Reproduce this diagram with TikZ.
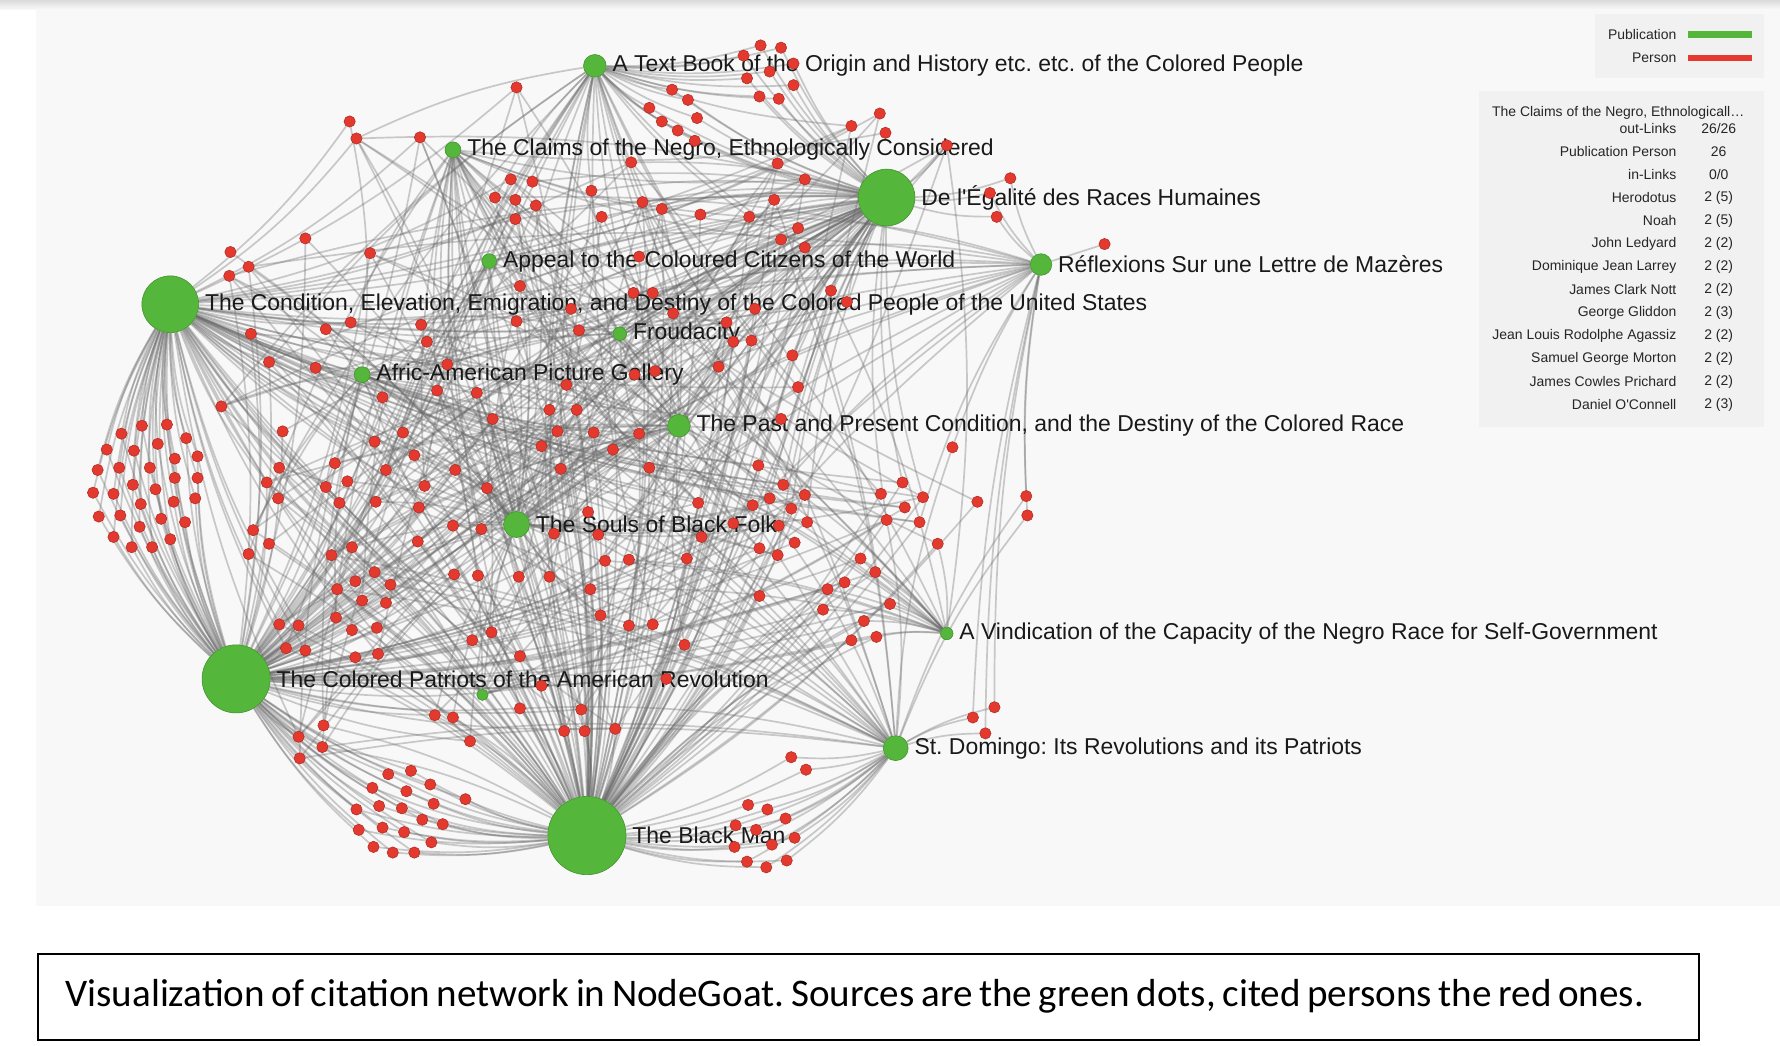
\documentclass[tikz,border=0pt]{standalone}
\usepackage{fontspec}
\setmainfont{Liberation Sans}
\newfontfamily\capfont{Carlito}
\usepackage{tikz}
\frenchspacing

\definecolor{pubgreen}{RGB}{84,182,58}
\definecolor{perred}{RGB}{227,57,46}
\definecolor{panelgray}{RGB}{248,248,248}
\definecolor{boxgray}{RGB}{241,241,241}

\pgfdeclarelayer{back}
\pgfdeclarelayer{edges}
\pgfsetlayers{back,edges,main}

\tikzset{
    pub/.style={circle, fill=pubgreen, draw=pubgreen!80!black, line width=0.3pt, inner sep=0pt, minimum size=#1},
    person/.style={circle, fill=perred, draw=perred!75!black, line width=0.25pt, inner sep=0pt, minimum size=0.2cm},
    link/.style={draw=black!60, opacity=0.33, line width=0.85pt},
    lbl/.style={font=\fontsize{11.5}{13}\selectfont, inner sep=0pt, text=black!90, label distance=0.1cm},
    info/.style={font=\fontsize{7}{8}\selectfont, inner sep=0pt, text=black!85},
    capbox/.style={draw=black, line width=1pt, fill=white, minimum width=29.28cm, minimum height=1.52cm, text width=28.3cm, inner xsep=0.49cm, align=left}
}

% person positions, grouped by the publications citing them
\def\cplist{125/375,147/374,107/382,139/391,164/386,94/396,118/397,154/404,174/402,86/414,
    105/412,132/412,154/421,174/421,82/434,100/435,117/427,137/431,124/444,153/442,
    172/439,87/455,106/454,123/464,142/457,163/460,100/473,116/482,134/482,150/475}
\def\pblist{342/682,362/679,328/694,358/697,379/691,314/713,334/710,354/712,382/708,316/731,
    337/729,356/733,372/722,390/726,329/746,346/751,365/751,380/742,410/704}
\def\bdlist{659/709,676/713,692/721,648/727,666/731,700/738,680/744,647/746,658/759,675/764,
    693/758,697/667,710/678}
\def\telist{670/40,688/42,655/49,699/56,678/63,658/69,699/75,669/85,686/87,592/79,
    606/88,572/95,614/104,583/107,597/115,612/124}
\def\relist{890/157,872/170,878/191}
\def\rdlist{904/437,905/454,876/623,857/632,868/646,839/394}
\def\vdlist{758/492,771/504,744/513,729/519,784/532,725/537,761/547,750/564,772/561}
\def\mxlist{455/77,308/107,314/122,370/121,450/158,469/160,436/174,454/176,472/181,454/193,
    521/168,530/191,269/210,326/223,203/222,219/235,202/243,458/252,503/272,455/283,
    510/291,309/284,287/290,371/286,376/301,221/294,237/319,278/324,394/321,385/344,
    420/346,499/339,337/350,
    775/100,750/111,780/117,834/128,556/143,685/144,709/158,566/178,583/184,617/189,
    660/191,682/176,703/201,688/211,709/218,563/226,558/258,575/258,732/256,746/266,
    665/272,593/276,640/284,646/301,662/300,698/313,633/323,703/341,559/330,577/327,
    195/358,249/380,246/412,235/425,245/439,223/467,237/479,219/488,295/408,287/429,
    306/424,299/443,330/389,355/381,365/401,340/414,374/428,331/442,369/447,401/414,
    429/430,434/369,484/361,508/361,491/380,523/381,477/393,494/413,399/463,424/466,
    368/477,310/482,292/489,488/470,527/471,518/451,400/506,421/507,457/508,484/508,
    330/504,313/512,344/515,297/519,319/529,340/531,296/544,310/555,332/553,246/550,
    263/551,252/571,269/573,313/579,333/576,416/564,433/557,458/578,520/519,529/542,
    477/604,458/624,512/625,497/644,515/644,383/630,399/632,414/653,285/639,263/649,
    284/658,264/668,
    688/369,563/382,540/396,572/412,668/410,690/427,709/436,678/439,663/445,615/443,
    697/448,711/460,686/463,646/461,618/473,700/478,669/483,685/489,605/492,554/493,
    533/494,776/435,795/425,813/438,797/447,781/458,810/460,826/479,861/442,669/525,
    554/551,575/550,603/568,587/598,542/642}

\begin{document}
\begin{tikzpicture}[x=0.02cm, y=-0.02cm]
    \useasboundingbox (0,0) rectangle (1568,921);
    \pgfmathsetseed{42}

    % Background and panels
    \begin{pgfonlayer}{back}
        \fill[white] (0,0) rectangle (1568,921);
        \shade[top color=black!14, bottom color=black!3] (0,0) rectangle (1568,8);
        \fill[panelgray] (32,8) rectangle (1568,798);
        \fill[boxgray] (1405,12) rectangle (1554,69);
        \fill[boxgray] (1303,80) rectangle (1554,376);
    \end{pgfonlayer}

    % Publications
    \node[pub=0.40cm, label={[lbl]right:A Text Book of the Origin and History etc. etc. of the Colored People}] (TEXTBK) at (524,58) {};
    \node[pub=0.28cm, label={[lbl]right:The Claims of the Negro, Ethnologically Considered}] (CLAIMS) at (399,132) {};
    \node[pub=1.00cm, label={[lbl]right:De l\textquotesingle Égalité des Races Humaines}] (EGAL) at (781,174) {};
    \node[pub=0.26cm, label={[lbl]right:Appeal to the Coloured Citizens of the World}] (APPEAL) at (431,230) {};
    \node[pub=0.38cm, label={[lbl]right:Réflexions Sur une Lettre de Mazères}] (REFLEX) at (917,233) {};
    \node[pub=1.00cm, label={[lbl]right:The Condition, Elevation, Emigration, and Destiny of the Colored People of the United States}] (COND) at (150,268) {};
    \node[pub=0.24cm, label={[lbl]right:Froudacity}] (FROUD) at (546,294) {};
    \node[pub=0.28cm, label={[lbl]right:Afric-American Picture Gallery}] (AFRIC) at (319,330) {};
    \node[pub=0.40cm, label={[lbl]right:The Past and Present Condition, and the Destiny of the Colored Race}] (PAST) at (598,375) {};
    \node[pub=0.46cm, label={[lbl]right:The Souls of Black Folk}] (SOULS) at (455,462) {};
    \node[pub=0.22cm, label={[lbl]right:A Vindication of the Capacity of the Negro Race for Self-Government}] (VINDIC) at (834,558) {};
    \node[pub=1.20cm, label={[lbl]right:The Colored Patriots of the American Revolution}] (PATRIOT) at (208,598) {};
    \node[pub=0.20cm] (EXTRA) at (425,612) {};
    \node[pub=0.44cm, label={[lbl]right:St. Domingo: Its Revolutions and its Patriots}] (DOMINGO) at (789,659) {};
    \node[pub=1.38cm, label={[lbl]right:The Black Man}] (BLACKMAN) at (517,736) {};

    % Persons
    \foreach \x/\y [count=\i] in \cplist {\node[person] (cp\i) at (\x,\y) {};}
    \foreach \x/\y [count=\i] in \pblist {\node[person] (pb\i) at (\x,\y) {};}
    \foreach \x/\y [count=\i] in \bdlist {\node[person] (bd\i) at (\x,\y) {};}
    \foreach \x/\y [count=\i] in \telist {\node[person] (te\i) at (\x,\y) {};}
    \foreach \x/\y [count=\i] in \relist {\node[person] (re\i) at (\x,\y) {};}
    \foreach \x/\y [count=\i] in \rdlist {\node[person] (rd\i) at (\x,\y) {};}
    \foreach \x/\y [count=\i] in \vdlist {\node[person] (vd\i) at (\x,\y) {};}
    \foreach \x/\y [count=\i] in \mxlist {\node[person] (mx\i) at (\x,\y) {};}
    \node[person] (rf1) at (973,215) {};

    % Citation links
    \begin{pgfonlayer}{edges}
        \foreach \x/\y [count=\i] in \cplist {
            \draw[link] (cp\i) to[bend left=8] (COND);
            \draw[link] (cp\i) to[bend right=8] (PATRIOT);
        }
        \foreach \x/\y [count=\i] in \pblist {
            \draw[link] (pb\i) to[bend left=8] (PATRIOT);
            \draw[link] (pb\i) to[bend right=8] (BLACKMAN);
        }
        \foreach \x/\y [count=\i] in \bdlist {
            \draw[link] (bd\i) to[bend left=8] (BLACKMAN);
            \draw[link] (bd\i) to[bend right=8] (DOMINGO);
        }
        \foreach \x/\y [count=\i] in \telist {
            \draw[link] (te\i) to[bend left=8] (TEXTBK);
            \draw[link] (te\i) to[bend right=8] (EGAL);
        }
        \foreach \x/\y [count=\i] in \relist {
            \draw[link] (re\i) to[bend left=8] (EGAL);
            \draw[link] (re\i) to[bend right=8] (REFLEX);
        }
        \foreach \x/\y [count=\i] in \rdlist {
            \draw[link] (rd\i) to[bend left=6] (REFLEX);
            \draw[link] (rd\i) to[bend right=8] (DOMINGO);
        }
        \foreach \x/\y [count=\i] in \vdlist {
            \draw[link] (vd\i) to[bend left=8] (VINDIC);
            \draw[link] (vd\i) to[bend right=8] (BLACKMAN);
            \draw[link] (vd\i) to[bend left=8] (PATRIOT);
        }
        \draw[link] (rf1) -- (REFLEX);
        \foreach \x/\y [count=\i] in \mxlist {
            \foreach \h/\p in {BLACKMAN/0.62,PATRIOT/0.4,COND/0.35,EGAL/0.4,TEXTBK/0.14,PAST/0.23,SOULS/0.26,
                DOMINGO/0.12,REFLEX/0.11,CLAIMS/0.15,AFRIC/0.15,APPEAL/0.13,FROUD/0.11,VINDIC/0.08,EXTRA/0.06} {
                \pgfmathtruncatemacro\hit{rnd<\p}
                \ifnum\hit=1 \draw[link] (mx\i) to[bend left=8] (\h); \fi
            }
        }
    \end{pgfonlayer}

    % Legend
    \node[info, anchor=east] (PUBKEY) at (1477,30) {Publication};
    \node[info, anchor=east] (PERKEY) at (1477,50.5) {Person};
    \draw[pubgreen, line width=0.12cm] (1487,30.5) -- (1543,30.5);
    \draw[perred, line width=0.12cm] (1487,51) -- (1543,51);

    % Info panel
    \node[info, anchor=west] (TITLE) at (1314,99) {The Claims of the Negro, Ethnologicall…};
    \foreach \lab/\val [count=\k] in {out-Links/{26/26}, Publication Person/26, in-Links/{0/0},
        Herodotus/2 (5), Noah/2 (5), John Ledyard/2 (2), Dominique Jean Larrey/2 (2),
        James Clark Nott/2 (2), George Gliddon/2 (3), Jean Louis Rodolphe Agassiz/2 (2),
        Samuel George Morton/2 (2), James Cowles Prichard/2 (2), Daniel O\textquotesingle Connell/2 (3)} {
        \node[info, anchor=east] (key\k) at (1477,{113+(\k-1)*20.3}) {\lab};
        \node[info] (val\k) at (1514,{113+(\k-1)*20.3}) {\val};
    }

    % Caption
    \node[capbox] (CAPTION) at (765,878) {\capfont\fontsize{19.6}{22}\selectfont Visualization of citation network in NodeGoat. Sources are the green dots, cited persons the red ones.};
\end{tikzpicture}
\end{document}
